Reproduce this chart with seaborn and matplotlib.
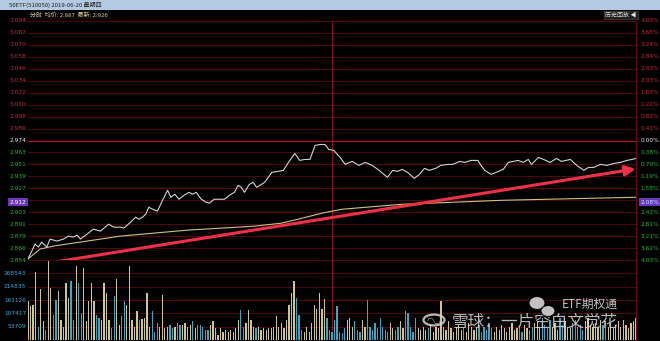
import numpy as np
import matplotlib
matplotlib.use("Agg")
import matplotlib.pyplot as plt
import seaborn as sns
from matplotlib.patches import Rectangle, Circle, Ellipse
import matplotlib.transforms as mtrans

# ---------------- data ----------------
price_min = [0,2.8,4.1,5.4,7.4,8.7,11.4,14,15.9,17.9,
             19.4,20.7,23.3,25.8,28.6,31.8,33.8,36.6,37.8,40.5,
             42.5,43.7,45.2,46.5,47.7,49.2,51.1,53.1,55.1,56.4,
             58,59.6,61.6,63.6,65,66.4,68.4,70.3,71.5,73.5,
             75,77.5,79.5,81.5,82.9,84.2,85.4,87.4,88.9,90.2,
             92.2,93.4,94.9,96.2,98.8,100.8,102.8,105.3,107.3,109.3,
             111.3,113.3,115.2,117.2,118.7,120.7,123.2,125.2,128,130.6,
             133.1,135.9,138.6,141.9,143.9,145.8,147.8,149.8,152.5,154.5,
             156.5,158.4,160.9,162.9,165.7,167.7,170.4,172.4,174.9,177.6,
             178.8,180.3,182.8,184.8,187.6,189.6,191.5,193.5,195.5,197.5,
             198.7,201.5,203.5,206.1,208.6,210.6,214.1,216.6,219.4,221.3,
             223.3,226,228.5,231.3,233.9,236.4,238.4,240]
price_val = [2.855,2.870,2.867,2.872,2.867,2.875,2.873,2.875,2.878,2.877,
             2.879,2.875,2.880,2.885,2.883,2.890,2.887,2.887,2.886,2.892,
             2.897,2.895,2.897,2.900,2.907,2.905,2.903,2.914,2.924,2.917,
             2.920,2.915,2.919,2.922,2.920,2.922,2.915,2.912,2.911,2.915,
             2.915,2.915,2.919,2.922,2.929,2.927,2.922,2.930,2.932,2.927,
             2.930,2.932,2.937,2.942,2.943,2.944,2.952,2.961,2.954,2.955,
             2.955,2.969,2.970,2.970,2.965,2.964,2.957,2.950,2.953,2.949,
             2.952,2.949,2.944,2.937,2.944,2.943,2.945,2.942,2.936,2.940,
             2.946,2.944,2.946,2.949,2.950,2.950,2.953,2.952,2.954,2.954,
             2.949,2.944,2.940,2.942,2.945,2.952,2.953,2.954,2.952,2.955,
             2.950,2.957,2.955,2.952,2.956,2.953,2.955,2.949,2.944,2.947,
             2.947,2.950,2.949,2.951,2.952,2.954,2.955,2.956]

avg_min = [0,4.8,10.1,23.3,36.6,49.7,63,76.3,89.4,100.1,106.7,116,124,147.8,187.6,240]
avg_val = [2.855,2.865,2.868,2.873,2.878,2.881,2.884,2.886,2.888,2.891,2.895,2.901,2.905,2.910,2.914,2.917]

# per-minute volume in thousands (241 bars)
volume = [156,136,143,275,54,204,75,41,320,211,
          102,163,197,82,54,231,170,238,82,299,
          231,109,292,75,156,228,156,102,88,82,
          231,190,82,48,177,245,61,95,156,143,
          299,82,54,116,82,84,88,190,54,116,
          34,68,54,180,48,54,61,48,54,68,
          61,61,68,54,61,75,48,61,61,54,
          41,41,61,75,48,20,48,34,41,34,
          41,34,48,82,122,54,68,122,82,54,
          48,54,41,48,41,48,48,54,95,54,
          68,48,82,143,190,238,170,102,41,34,
          54,34,68,143,125,190,125,166,88,41,
          34,82,136,34,27,
          48,82,88,54,75,41,34,82,54,163,
          54,41,68,48,88,54,41,34,68,48,
          41,54,75,48,116,109,54,34,88,48,
          41,54,
          41,48,61,34,54,48,156,54,41,75,
          48,34,54,61,41,48,34,68,54,41,
          48,61,34,54,41,68,48,34,54,41,
          61,48,34,54,68,41,48,54,34,61,
          48,41,54,
          68,75,54,88,61,48,82,54,68,41,
          88,61,75,54,48,68,82,54,61,41,
          75,88,61,54,68,48,82,61,75,54,
          68,48,61,75,54,82,61,48,68,75,
          88]

left_ticks = ["2.854","2.866","2.879","2.891","2.903","2.915","2.927","2.939","2.951","2.963",
              "2.974","2.986","2.998","3.010","3.022","3.034","3.046","3.058","3.070","3.082","3.094"]
right_ticks = ["4.03%","3.62%","3.21%","2.81%","2.42%","2.08%","1.58%","1.19%","0.79%","0.38%",
               "0.00%","0.41%","0.82%","1.22%","1.63%","2.03%","2.43%","2.84%","3.24%","3.65%","4.03%"]
vol_ticks = ["53709","107417","161126","214835","268543"]
pre_close = 2.974
p_low, p_high = 2.854, 3.094
cursor_price = 2.912
cursor_left = "2.912"
cursor_right = "2.08%"
arrow_start = (9.4, 2.8515)
arrow_end = (239.8, 2.9455)

# ---------------- style ----------------
sns.set_style("dark", {"axes.facecolor": "black", "figure.facecolor": "black"})
plt.rcParams["font.family"] = ["Noto Sans CJK SC", "DejaVu Sans"]

W, H = 660, 341
fig = plt.figure(figsize=(W/100, H/100), dpi=100, facecolor="black")

def fx(px): return px / W
def fy(py): return 1 - py / H

x0, x1 = 28, 636
ax = fig.add_axes([fx(x0), fy(260), fx(x1 - x0), (260 - 21) / H])
axv = fig.add_axes([fx(x0), fy(340), fx(x1 - x0), 80 / H])
for a in (ax, axv):
    a.set_facecolor("black")
    a.set_xlim(0, 240)
    a.set_xticks([]); a.set_yticks([])
    for s in a.spines.values():
        s.set_visible(False)
    a.grid(False)

ax.set_ylim(p_low, p_high)
grid_c = "#5a0a14"
levels = np.linspace(p_low, p_high, 21)
for i, lv in enumerate(levels):
    c = "#b01020" if i == 10 else grid_c
    lw = 0.9 if i == 10 else 0.6
    ax.axhline(lv, color=c, lw=lw, zorder=1, clip_on=False)
ax.axhline(p_low, color="#8a1020", lw=0.8, zorder=1, clip_on=False)

vmax = 6 * 53709
axv.set_ylim(0, vmax)
for k in range(1, 7):
    axv.axhline(k * 53709, color=grid_c, lw=0.6, zorder=1)

for a in (ax, axv):
    a.axvline(120, color="#8a1020", lw=0.8, zorder=1)
    a.axvline(240, color="#6a0a18", lw=0.8, zorder=1, clip_on=False)

# lines
sns.lineplot(x=price_min, y=price_val, ax=ax, color="#d4d4d4", lw=0.8, zorder=4)
sns.lineplot(x=avg_min, y=avg_val, ax=ax, color="#c9c47e", lw=0.8, zorder=3)

# volume bars
minutes = np.arange(len(volume))
pm_full = np.interp(minutes, price_min, price_val)
up = np.concatenate([[True], np.diff(pm_full) >= 0])
cols = np.where(up, "#cfc590", "#3ea6c2")
axv.bar(minutes, np.array(volume) * 1000, width=0.5, color=cols, linewidth=0, zorder=2)

# axis labels
tl = mtrans.blended_transform_factory(ax.transAxes, ax.transData)
for i, (lv, lt, rt) in enumerate(zip(levels, left_ticks, right_ticks)):
    if i > 10:
        c = "#c8283a"
    elif i == 10:
        c = "#e8e8e8"
    else:
        c = "#22b822"
    if i == 5:
        continue
    ax.text(-0.003, lv, lt, transform=tl, ha="right", va="center", fontsize=4.2,
            color=c, family="DejaVu Sans")
    ax.text(1.008, lv, rt, transform=tl, ha="left", va="center", fontsize=4.2,
            color=c, family="DejaVu Sans")

# cursor markers
ax.text(-0.003, cursor_price, cursor_left, transform=tl, ha="right", va="center",
        fontsize=4.2, color="white", family="DejaVu Sans",
        bbox=dict(boxstyle="square,pad=0.25", fc="#6a38b8", ec="none"))
ax.text(1.008, cursor_price, cursor_right, transform=tl, ha="left", va="center",
        fontsize=4.2, color="#c8e8ff", family="DejaVu Sans",
        bbox=dict(boxstyle="square,pad=0.25", fc="#6a38b8", ec="none"))

tv = mtrans.blended_transform_factory(axv.transAxes, axv.transData)
for k, lt in enumerate(vol_ticks):
    axv.text(-0.003, (k + 1) * 53709, lt, transform=tv, ha="right", va="center",
             fontsize=4.2, color="#38a8d8", family="DejaVu Sans")

# red arrow annotation
ax.annotate("", xy=arrow_end, xytext=arrow_start, xycoords="data",
            arrowprops=dict(arrowstyle="-|>,head_length=0.6,head_width=0.3",
                            color="#f03048", lw=2.2, shrinkA=0, shrinkB=0),
            annotation_clip=False, zorder=6)

# header bar
fig.patches.append(Rectangle((0, fy(10)), 1, 10 / H, transform=fig.transFigure,
                             fc="#b4cae2", ec="none", zorder=0))
fig.text(fx(9), fy(5), "50ETF(510050) 2019-06-20 星期四", fontsize=4.3,
         color="#202020", va="center", ha="left")
fig.text(fx(30), fy(15), "分时  均价: 2.887  最新: 2.926", fontsize=4.3,
         color="#e2d896", va="center", ha="left")
fig.text(fx(605), fy(15), "历史回放 ◀", fontsize=4.3, color="#e0e0e0",
         va="center", ha="left",
         bbox=dict(boxstyle="square,pad=0.2", fc="#202020", ec="#505050", lw=0.4))

# watermark
wm = "#d8d8d8"
fig.patches.append(Circle((fx(434), fy(320)), 10.5 / W, transform=fig.transFigure,
                          fill=False, ec=wm, lw=1.6, alpha=0.85, zorder=10))
fig.text(fx(434), fy(320), "◠◡", fontsize=6, color=wm, ha="center", va="center",
         alpha=0.85, family="DejaVu Sans")
fig.text(fx(452), fy(322), "雪球：一片空白文觉花", fontsize=12, color=wm,
         ha="left", va="center", alpha=0.85)
fig.patches.append(Ellipse((fx(537), fy(303)), 16 / W, 13 / H, transform=fig.transFigure,
                           fc=wm, ec="black", lw=0.8, alpha=0.9, zorder=10))
fig.patches.append(Ellipse((fx(548), fy(311)), 14 / W, 11 / H, transform=fig.transFigure,
                           fc=wm, ec="black", lw=0.8, alpha=0.9, zorder=11))
fig.text(fx(562), fy(304), "ETF期权通", fontsize=8.5, color=wm,
         ha="left", va="center", alpha=0.9)

fig.savefig("out.png", dpi=100, facecolor="black")
